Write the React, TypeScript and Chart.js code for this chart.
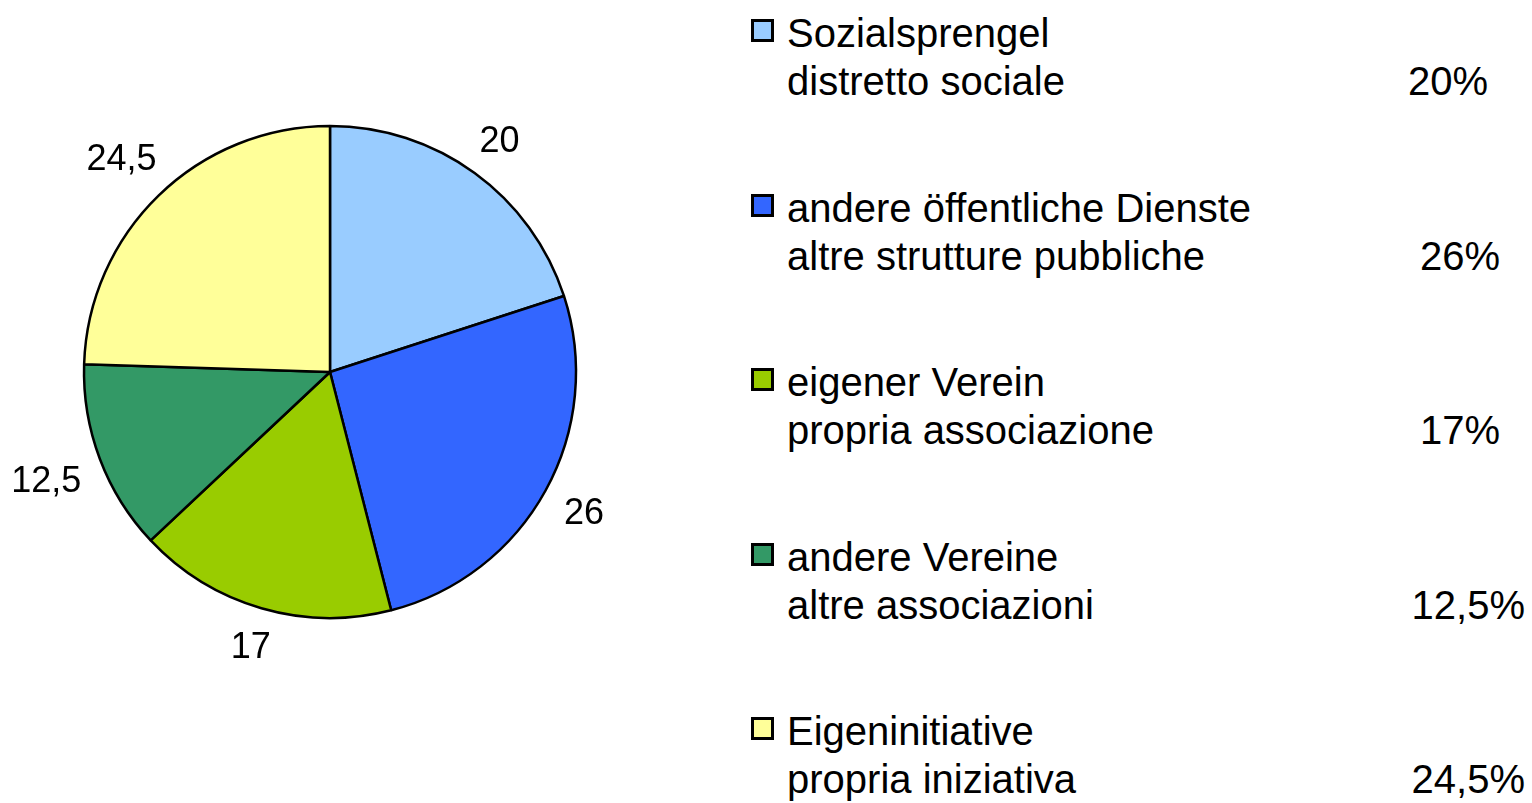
import React, { useEffect, useRef } from "react";
import { Chart, registerables } from "chart.js";

Chart.register(...registerables);

const categoriesDe = [
  "Sozialsprengel",
  "andere öffentliche Dienste",
  "eigener Verein",
  "andere Vereine",
  "Eigeninitiative",
];
const categoriesIt = [
  "distretto sociale",
  "altre strutture pubbliche",
  "propria associazione",
  "altre associazioni",
  "propria iniziativa",
];
const values = [20, 26, 17, 12.5, 24.5];
const colors = ["#99CCFF", "#3366FF", "#99CC00", "#339966", "#FFFF99"];

const FONT = "'Liberation Sans', Arial, sans-serif";
const fmt = (v: number) => String(v).replace(".", ",");

// legend layout
const legendX = 751;
const textX = 787;
const firstBaseline = 47;
const itemStep = 174.5;
const lineH = 48;
const pctRight = [1488, 1500, 1500, 1525, 1525];

const labelPlugin = {
  id: "outsideLabels",
  afterDatasetsDraw(chart: any) {
    const ctx = chart.ctx;
    const meta = chart.getDatasetMeta(0);
    ctx.save();
    ctx.font = `36px ${FONT}`;
    ctx.fillStyle = "#000";
    ctx.textAlign = "center";
    ctx.textBaseline = "alphabetic";
    const h = 36 * 0.716;
    meta.data.forEach((arc: any, i: number) => {
      const p = arc.getProps(["x", "y", "startAngle", "endAngle", "outerRadius"], true);
      const mid = (p.startAngle + p.endAngle) / 2;
      const cx = Math.cos(mid);
      const cy = Math.sin(mid);
      const text = fmt(values[i]);
      const w = ctx.measureText(text).width;
      const d = p.outerRadius + 20 + (w / 2) * Math.abs(cx) + (h / 2) * Math.abs(cy);
      const tx = p.x + cx * d;
      const ty = p.y + cy * d;
      ctx.fillText(text, tx, ty + h / 2);
    });
    ctx.restore();
  },
};

export default function App() {
  const ref = useRef<HTMLCanvasElement>(null);
  useEffect(() => {
    if (!ref.current) return;
    const chart = new Chart(ref.current, {
      type: "pie",
      data: {
        labels: categoriesDe,
        datasets: [
          {
            data: values,
            backgroundColor: colors,
            borderColor: "#000",
            borderWidth: 2.5,
          },
        ],
      },
      options: {
        animation: false,
        responsive: false,
        devicePixelRatio: 1,
        radius: 246,
        layout: { padding: { left: 84, right: 116, top: 126, bottom: 185 } },
        plugins: {
          legend: { display: false },
          tooltip: { enabled: false },
        },
      } as any,
      plugins: [labelPlugin],
    });
    return () => chart.destroy();
  }, []);

  const baseOff = (lineH - 40 * 1.117) / 2 + 40 * 0.905;

  return (
    <div
      style={{
        position: "absolute",
        left: 0,
        top: 0,
        width: 1532,
        height: 803,
        background: "#fff",
        overflow: "hidden",
        fontFamily: FONT,
      }}
    >
      <canvas
        ref={ref}
        width={692}
        height={803}
        style={{ position: "absolute", left: 0, top: 0, width: 692, height: 803 }}
      />
      {categoriesDe.map((de, i) => {
        const b = firstBaseline + i * itemStep;
        return (
          <React.Fragment key={i}>
            <div
              style={{
                position: "absolute",
                left: legendX,
                top: b - 28,
                width: 23,
                height: 23,
                boxSizing: "border-box",
                border: "3px solid #000",
                background: colors[i],
              }}
            />
            <div
              style={{
                position: "absolute",
                left: textX,
                top: b - baseOff,
                fontSize: 40,
                lineHeight: `${lineH}px`,
                whiteSpace: "nowrap",
                color: "#000",
              }}
            >
              <div>{de}</div>
              <div>{categoriesIt[i]}</div>
            </div>
            <div
              style={{
                position: "absolute",
                right: 1532 - pctRight[i],
                top: b + lineH - baseOff,
                fontSize: 40,
                lineHeight: `${lineH}px`,
                whiteSpace: "nowrap",
                color: "#000",
              }}
            >
              {fmt(values[i]) + "%"}
            </div>
          </React.Fragment>
        );
      })}
    </div>
  );
}
